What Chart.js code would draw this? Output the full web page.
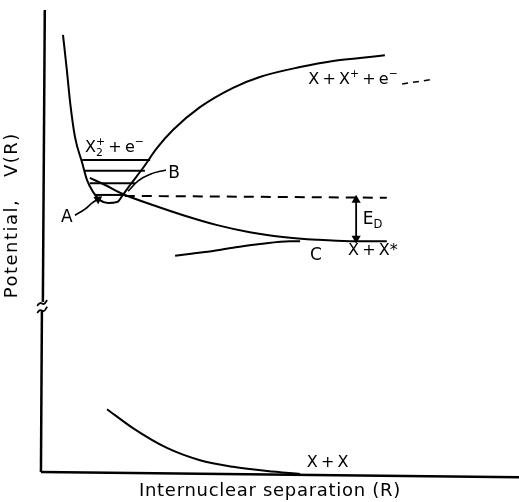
<!DOCTYPE html>
<html>
<head>
<meta charset="utf-8">
<script src="https://cdn.jsdelivr.net/npm/chart.js@4"></script>
<style>
  html, body { margin: 0; padding: 0; background: #fff; }
  canvas { display: block; }
</style>
</head>
<body>
<canvas id="potentialChart" width="519" height="502"></canvas>
<script>
// curves as [R, V] pairs (arbitrary units)
const ionCurve = [
  [0.48, 9.26], [0.56, 8.52], [0.63, 7.82], [0.73, 7.10], [0.88, 6.55],
  [0.98, 6.19], [1.11, 5.93], [1.25, 5.76], [1.42, 5.70], [1.61, 5.72],
  [1.73, 5.87], [1.88, 6.08], [2.15, 6.44], [2.44, 6.86], [2.78, 7.25],
  [3.34, 7.73], [4.03, 8.14], [4.59, 8.37], [5.43, 8.58], [6.12, 8.71],
  [6.68, 8.77], [7.20, 8.83]
];
const repulsiveCurve = [
  [1.04, 6.23], [1.36, 6.08], [1.73, 5.89], [2.40, 5.64], [2.99, 5.44],
  [3.70, 5.23], [4.38, 5.08], [5.07, 4.98], [5.78, 4.92], [6.47, 4.89],
  [7.24, 4.89]
];
const excitedCurve = [
  [2.82, 4.58], [3.44, 4.66], [4.03, 4.75], [4.59, 4.83], [5.22, 4.89], [5.43, 4.89]
];
const groundCurve = [
  [1.40, 1.33], [1.94, 0.93], [2.65, 0.51], [3.34, 0.25], [4.03, 0.11],
  [4.74, 0.02], [5.43, -0.04]
];
// vibrational levels: [R start, R end, V]
const vibLevels = [
  [0.88, 2.30, 6.61],
  [0.94, 2.19, 6.38],
  [1.04, 1.98, 6.12],
  [1.15, 1.77, 5.87]
];
const dissocLine = [[1.77, 5.85], [7.24, 5.81]];
const contDashes = [[7.56, 8.22], [8.14, 8.31]];
const edArrow = [[6.60, 5.76], [6.60, 4.95]];
const arrowA = [[0.73, 5.44], [0.94, 5.57], [1.09, 5.70], [1.21, 5.78]];
const leaderB = [[2.63, 6.40], [2.30, 6.31], [2.05, 6.17], [1.84, 5.95]];
const xAxisLine = [[0.02, 0], [10.0, -0.11]];
const yAxisUpper = [[0.10, 9.79], [0.06, 3.60]];
const yAxisLower = [[0.04, 3.41], [0.02, 0]];
const breakMark1 = [[-0.06, 3.52], [0.00, 3.58], [0.08, 3.56], [0.15, 3.64]];
const breakMark2 = [[-0.06, 3.37], [0.00, 3.43], [0.08, 3.41], [0.15, 3.50]];

const FONT = '"DejaVu Sans", sans-serif';
const THIN = "\u2009";

const toPts = arr => arr.map(([x, y]) => ({ x, y }));

const line = (data, extra) => Object.assign({
  data: toPts(data),
  showLine: true,
  borderColor: "#000",
  backgroundColor: "#000",
  borderWidth: 2,
  pointRadius: 0,
  tension: 0.4,
  clip: false
}, extra || {});

const datasets = [
  line(xAxisLine, { borderWidth: 2.5, tension: 0 }),
  line(yAxisUpper, { borderWidth: 2.5, tension: 0 }),
  line(yAxisLower, { borderWidth: 2.5, tension: 0 }),
  line(breakMark1, { borderWidth: 1.8 }),
  line(breakMark2, { borderWidth: 1.8 }),
  line(ionCurve, { cubicInterpolationMode: "monotone" }),
  line(repulsiveCurve, { cubicInterpolationMode: "monotone" }),
  line(excitedCurve, { cubicInterpolationMode: "monotone" }),
  line(groundCurve, { cubicInterpolationMode: "monotone" }),
  ...vibLevels.map(([a, b, v]) => line([[a, v], [b, v]], { tension: 0 })),
  line(dissocLine, { tension: 0, borderDash: [10, 7] }),
  line(contDashes, { tension: 0, borderWidth: 1.5, borderDash: [6, 5] }),
  line(edArrow, {
    tension: 0, borderWidth: 1.8,
    pointStyle: "triangle", pointRadius: 3.5, pointRotation: [0, 180]
  }),
  line(arrowA, {
    borderWidth: 1.6,
    pointStyle: "triangle", pointRadius: [0, 0, 0, 3.5], pointRotation: [0, 0, 0, 56]
  }),
  line(leaderB, { borderWidth: 1.6 })
];

// text annotations: parts are [text, kind, stackedOnPrevious]
const annotations = [
  { at: [0.94, 6.86], parts: [["X"], ["2", "sub"], ["+", "sup", true], [THIN + "+" + THIN + "e"], ["\u2212", "sup"]] },
  { at: [2.80, 6.33], parts: [["B"]], align: "center", size: 17 },
  { at: [0.56, 5.38], parts: [["A"]], align: "center", size: 17 },
  { at: [5.60, 8.31], parts: [["X" + THIN + "+" + THIN + "X"], ["+", "sup"], [THIN + "+" + THIN + "e"], ["\u2212", "sup"]] },
  { at: [6.74, 5.34], parts: [["E"], ["D", "sub"]], size: 17 },
  { at: [5.76, 4.58], parts: [["C"]], align: "center", size: 17 },
  { at: [6.43, 4.68], parts: [["X" + THIN + "+" + THIN + "X*"]] },
  { at: [5.57, 0.19], parts: [["X" + THIN + "+" + THIN + "X"]] },
  { at: [4.80, -0.42], parts: [["Internuclear separation (R)"]], align: "center", size: 18, spacing: 0.7 },
  { at: [-0.58, 5.44], parts: [["Potential,   V(R)"]], align: "center", size: 18, spacing: 1.5, rotate: true }
];

function drawRich(ctx, parts, x, y, size, align) {
  const segs = [];
  let cx = 0, lastX = 0;
  parts.forEach(([t, kind, stacked]) => {
    const s = kind ? size * 0.68 : size;
    ctx.font = `${s}px ${FONT}`;
    const w = ctx.measureText(t).width;
    const sx = stacked ? lastX : cx;
    const dy = kind === "sub" ? size * 0.32 : kind === "sup" ? -size * 0.38 : 0;
    segs.push({ t, s, sx, dy });
    lastX = sx;
    cx = Math.max(cx, sx + w);
  });
  const x0 = align === "center" ? x - cx / 2 : x;
  segs.forEach(g => {
    ctx.font = `${g.s}px ${FONT}`;
    ctx.fillText(g.t, x0 + g.sx, y + g.dy);
  });
}

const labelPlugin = {
  id: "labels",
  afterDatasetsDraw(chart) {
    const { ctx, scales } = chart;
    ctx.save();
    ctx.fillStyle = "#000";
    ctx.textBaseline = "middle";
    annotations.forEach(a => {
      const px = scales.x.getPixelForValue(a.at[0]);
      const py = scales.y.getPixelForValue(a.at[1]);
      const size = a.size || 16;
      ctx.letterSpacing = (a.spacing || 0) + "px";
      if (a.rotate) {
        ctx.save();
        ctx.translate(px, py);
        ctx.rotate(-Math.PI / 2);
        drawRich(ctx, a.parts, 0, 0, size, a.align);
        ctx.restore();
      } else {
        drawRich(ctx, a.parts, px, py, size, a.align);
      }
    });
    ctx.restore();
  }
};

new Chart("potentialChart", {
  type: "scatter",
  data: { datasets },
  options: {
    responsive: false,
    animation: false,
    events: [],
    layout: { autoPadding: false, padding: { left: 40, right: 0, top: 0, bottom: 30 } },
    plugins: { legend: { display: false }, tooltip: { enabled: false } },
    scales: {
      x: { type: "linear", min: 0, max: 10, display: false },
      y: { type: "linear", min: 0, max: 10, display: false }
    }
  },
  plugins: [labelPlugin]
});
</script>
</body>
</html>
